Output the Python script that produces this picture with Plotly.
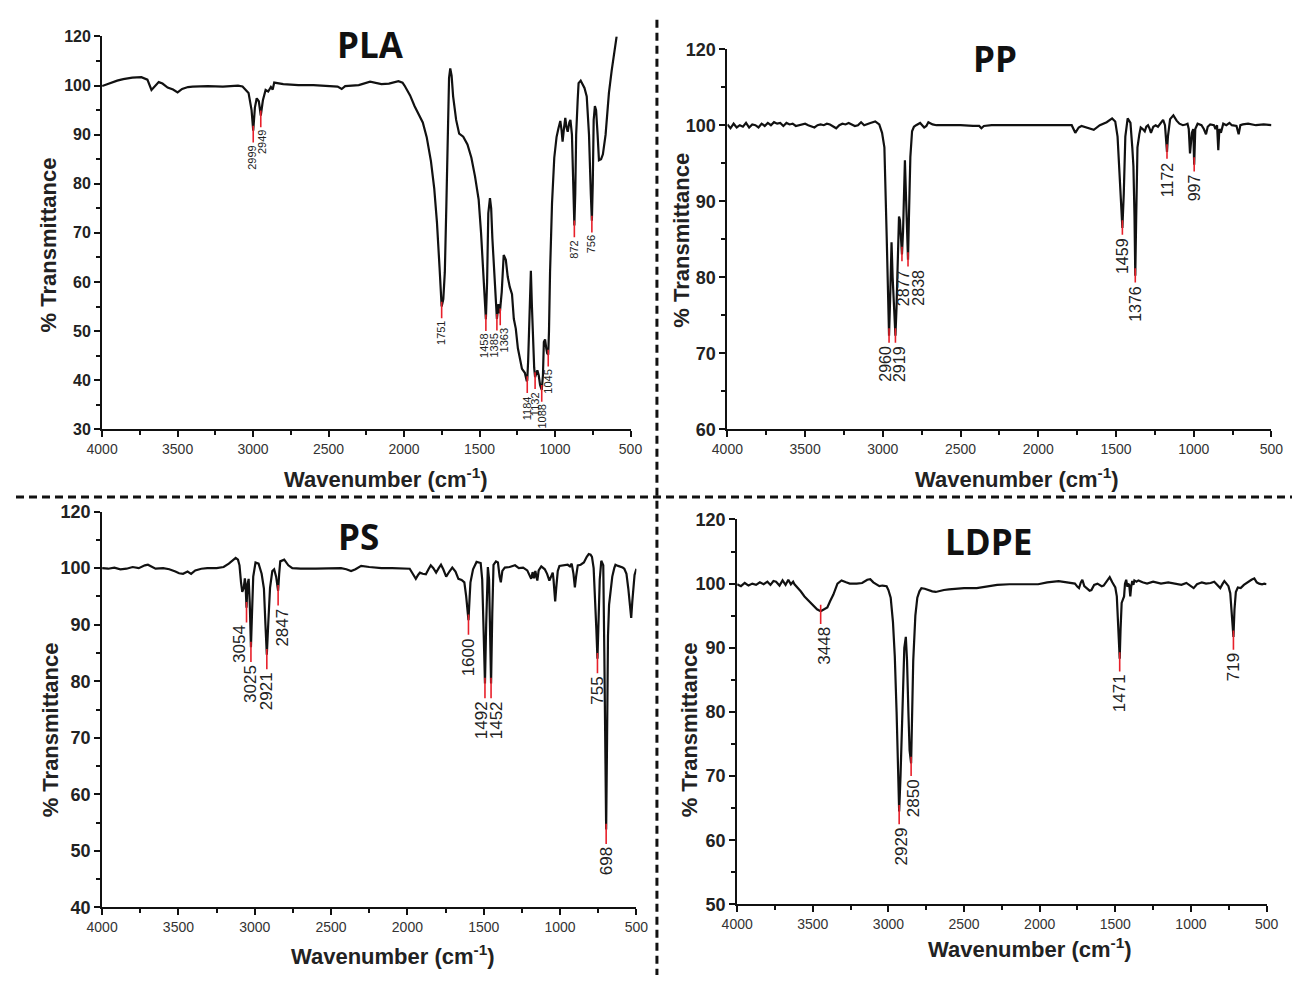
import plotly.graph_objects as go

# ---------------- data ----------------
pla_wn = [4000, 3950, 3900, 3860, 3800, 3740, 3700, 3673, 3650, 3625, 3600, 3566, 3530, 3500, 3470, 3431, 3400,
          3300, 3200, 3100, 3070, 3030, 3010, 2999, 2988, 2976, 2962, 2949, 2935, 2917, 2900, 2882, 2870, 2860,
          2800, 2700, 2600, 2500, 2440, 2413, 2390, 2300, 2225, 2150, 2100, 2037, 2010, 1997, 1960, 1930, 1900,
          1876, 1850, 1822, 1800, 1782, 1765, 1751, 1740, 1730, 1720, 1710, 1702, 1694, 1685, 1675, 1655, 1635,
          1608, 1580, 1554, 1530, 1506, 1490, 1474, 1465, 1458, 1450, 1442, 1431, 1423, 1415, 1400, 1393, 1385,
          1375, 1366, 1353, 1340, 1326, 1313, 1300, 1285, 1273, 1260, 1246, 1230, 1219, 1200, 1187, 1184, 1178,
          1170, 1160, 1153, 1147, 1138, 1132, 1125, 1117, 1108, 1099, 1088, 1080, 1074, 1066, 1058, 1052, 1045,
          1040, 1033, 1020, 1005, 990, 978, 965, 957, 950, 940, 932, 924, 916, 905, 898, 888, 879, 872, 866, 860,
          850, 844, 830, 817, 805, 790, 775, 763, 756, 750, 744, 736, 728, 718, 709, 695, 683, 665, 643, 625,
          602, 592]
pla_t = [99.9, 100.5, 101.0, 101.3, 101.6, 101.7, 101.2, 99.1, 99.8, 100.7, 100.4, 99.6, 99.2, 98.6, 99.3, 99.7,
         99.8, 99.9, 99.8, 100.0, 99.8, 98.5, 95.0, 90.8, 95.5, 97.4, 96.8, 93.9, 97.0, 99.1, 98.8, 99.7, 99.2,
         100.6, 100.3, 100.1, 100.1, 100.0, 99.8, 99.3, 99.9, 100.1, 100.8, 100.3, 100.4, 100.9, 100.6, 100.0,
         98.0, 95.8, 94.0, 92.5, 89.5, 84.6, 79.0, 72.1, 63.0, 55.0, 56.5, 62.0, 75.4, 92.0, 101.5, 103.5, 102.0,
         97.8, 93.0, 90.2, 89.6, 88.0, 85.3, 81.5, 76.8, 70.0, 62.3, 56.0, 52.4, 60.0, 74.0, 77.1, 75.0, 68.9,
         60.0, 55.7, 52.5, 55.5, 53.6, 58.0, 65.5, 64.5, 61.0, 59.0, 57.5, 52.5, 50.5, 46.5, 43.5, 42.3, 41.5,
         39.8, 40.0, 44.0, 52.0, 62.3, 55.0, 48.0, 42.5, 40.6, 41.5, 42.0, 41.0, 39.0, 38.0, 41.0, 47.8, 48.3,
         46.5, 45.5, 45.2, 50.0, 62.0, 76.0, 85.3, 89.5, 91.2, 92.8, 91.0, 88.6, 91.5, 93.4, 91.5, 90.6, 92.5,
         93.0, 90.0, 78.0, 71.5, 78.0, 90.0, 97.0, 100.5, 101.0, 100.3, 99.5, 97.8, 90.0, 78.0, 72.5, 80.0, 93.0,
         95.8, 95.0, 90.0, 84.8, 85.0, 86.0, 90.0, 98.5, 103.0, 108.7, 110.0]
pla_peaks = [2999, 2949, 1751, 1458, 1385, 1363, 1184, 1132, 1088, 1045, 872, 756]
pla_peak_t = [90.8, 93.9, 55.0, 52.4, 52.5, 53.6, 39.8, 40.6, 38.0, 45.2, 71.5, 72.5]

pp_wn = [4000, 3980, 3960, 3940, 3920, 3900, 3880, 3860, 3840, 3820, 3800, 3780, 3760, 3740, 3720, 3700, 3680,
         3660, 3640, 3620, 3600, 3580, 3560, 3540, 3520, 3500, 3480, 3460, 3440, 3420, 3400, 3380, 3360, 3340,
         3320, 3300, 3280, 3260, 3240, 3220, 3200, 3180, 3160, 3140, 3120, 3100, 3080, 3049, 3023, 3005, 2990,
         2975, 2968, 2960, 2952, 2944, 2937, 2930, 2924, 2919, 2912, 2904, 2896, 2890, 2883, 2877, 2870, 2864,
         2858, 2850, 2844, 2838, 2832, 2823, 2812, 2800, 2786, 2760, 2734, 2720, 2707, 2680, 2655, 2600, 2500,
         2420, 2380, 2366, 2350, 2300, 2200, 2100, 2000, 1900, 1800, 1785, 1762, 1740, 1722, 1680, 1643, 1604,
         1560, 1525, 1505, 1490, 1478, 1468, 1459, 1450, 1440, 1425, 1407, 1395, 1388, 1381, 1376, 1370, 1362,
         1350, 1341, 1328, 1315, 1305, 1294, 1285, 1275, 1260, 1245, 1230, 1215, 1197, 1185, 1178, 1172, 1166,
         1152, 1131, 1110, 1092, 1070, 1052, 1040, 1032, 1024, 1012, 1003, 997, 990, 975, 950, 935, 921, 910,
         894, 870, 860, 850, 842, 835, 825, 810, 790, 770, 755, 725, 711, 700, 684, 650, 600, 550, 500]
pp_t = [100.1, 99.6, 100.2, 99.7, 100.0, 99.8, 100.3, 99.7, 100.1, 100.0, 99.7, 100.2, 99.9, 100.3, 100.0, 100.4,
        100.2, 100.3, 99.9, 100.3, 100.1, 100.2, 99.9, 100.0, 100.1, 100.2, 100.0, 99.8, 99.7, 100.0, 100.1,
        100.0, 100.2, 100.1, 99.8, 99.6, 100.0, 100.2, 100.1, 100.3, 100.1, 99.9, 100.0, 100.4, 100.0, 100.1,
        100.3, 100.5, 100.1, 99.0, 97.1, 85.2, 78.0, 72.3, 78.0, 84.6, 80.0, 76.7, 74.5, 72.3, 76.0, 82.0, 88.0,
        87.5, 85.0, 83.0, 86.0, 90.0, 95.4, 90.0, 84.0, 82.3, 88.0, 95.8, 99.2, 99.8, 100.0, 100.3, 99.7, 99.9,
        100.4, 100.1, 100.0, 100.0, 100.0, 99.9, 99.9, 99.6, 99.9, 100.0, 100.0, 100.0, 100.0, 100.0, 100.0,
        100.0, 99.0, 99.7, 99.9, 99.6, 99.4, 100.0, 100.4, 100.9, 100.5, 98.5, 93.7, 89.0, 86.5, 91.0, 98.5,
        100.9, 100.3, 97.0, 94.6, 88.0, 80.2, 88.0, 97.1, 98.8, 99.7, 99.5, 99.2, 99.8, 100.0, 99.6, 99.0,
        99.8, 100.0, 99.8, 100.2, 100.7, 100.0, 98.0, 96.5, 98.5, 100.8, 101.3, 100.6, 100.2, 100.0, 100.1,
        100.2, 99.5, 96.3, 99.0, 99.5, 94.8, 99.5, 100.2, 100.0, 99.5, 98.8, 99.8, 100.1, 100.0, 99.5, 100.0,
        96.7, 99.5, 99.0, 100.2, 100.0, 100.3, 100.0, 99.9, 98.8, 100.0, 100.1, 100.2, 100.0, 100.1, 100.0]
pp_peaks = [2960, 2919, 2877, 2838, 1459, 1376, 1172, 997]
pp_peak_t = [72.3, 72.3, 83.0, 82.3, 86.5, 80.2, 96.5, 94.8]

ps_wn = [4000, 3960, 3920, 3880, 3840, 3800, 3760, 3720, 3700, 3680, 3650, 3600, 3560, 3520, 3496, 3470, 3440,
         3417, 3390, 3350, 3311, 3250, 3204, 3170, 3151, 3125, 3110, 3100, 3090, 3082, 3072, 3065, 3060, 3054,
         3048, 3040, 3033, 3025, 3018, 3010, 2995, 2975, 2955, 2940, 2930, 2921, 2912, 2900, 2885, 2873, 2860,
         2852, 2847, 2840, 2833, 2807, 2780, 2754, 2700, 2600, 2500, 2435, 2400, 2369, 2340, 2303, 2250, 2170,
         2100, 2040, 1985, 1965, 1945, 1930, 1918, 1900, 1879, 1862, 1847, 1830, 1812, 1795, 1780, 1765, 1746,
         1725, 1706, 1685, 1666, 1645, 1627, 1615, 1600, 1592, 1587, 1570, 1547, 1520, 1510, 1500, 1492, 1484,
         1473, 1465, 1458, 1452, 1444, 1436, 1420, 1407, 1396, 1388, 1378, 1362, 1330, 1295, 1270, 1242, 1215,
         1200, 1189, 1180, 1170, 1162, 1149, 1140, 1123, 1100, 1085, 1070, 1060, 1048, 1043, 1032, 1025, 1015,
         1004, 980, 950, 935, 924, 912, 903, 895, 884, 865, 844, 825, 812, 800, 791, 780, 770, 762, 755, 748,
         740, 730, 717, 710, 704, 698, 692, 686, 679, 668, 658, 645, 637, 620, 606, 590, 579, 565, 553, 542,
         534, 527, 521, 512, 500]
ps_t = [100.0, 99.9, 100.1, 99.8, 99.9, 100.2, 100.0, 100.5, 100.6, 100.3, 99.9, 100.0, 99.8, 99.4, 99.1, 99.0,
        99.4, 99.0, 99.6, 99.9, 100.0, 100.0, 100.2, 100.8, 101.3, 101.8, 101.5, 100.5, 97.5, 95.8, 96.5, 98.2,
        97.0, 93.0, 97.0, 98.1, 94.0, 86.0, 92.0, 98.5, 101.0, 100.8, 99.0, 96.4, 90.0, 84.7, 90.0, 96.5, 99.5,
        99.8, 98.5, 96.4, 96.0, 99.0, 101.2, 101.5, 100.5, 100.0, 99.9, 99.9, 100.0, 100.0, 99.8, 99.5, 99.8,
        100.4, 100.2, 100.0, 100.0, 100.0, 99.9, 99.0, 98.1, 98.8, 99.2, 99.0, 98.9, 99.8, 100.5, 100.0, 99.2,
        100.0, 100.6, 99.8, 98.5, 99.4, 100.1, 99.4, 98.1, 97.9, 97.5, 95.0, 90.8, 95.0, 97.5, 99.8, 101.1,
        100.9, 98.0, 88.0, 79.6, 90.0, 100.2, 98.0, 88.0, 79.6, 92.0, 100.6, 101.2, 101.0, 98.5, 97.5, 99.5,
        100.1, 100.2, 100.5, 100.0, 100.1, 99.6, 98.8, 98.1, 99.3, 98.2, 99.5, 97.8, 99.6, 100.3, 99.8, 99.0,
        97.8, 98.5, 99.2, 98.0, 94.1, 96.5, 99.5, 100.4, 100.5, 100.6, 100.3, 100.8, 99.0, 96.6, 98.5, 100.5,
        100.6, 101.0, 102.0, 102.5, 102.4, 102.0, 100.0, 95.0, 89.0, 84.0, 90.0, 98.0, 101.3, 100.5, 85.0,
        70.0, 53.8, 70.0, 88.0, 93.5, 96.5, 98.5, 100.0, 100.6, 100.4, 100.3, 100.1, 99.9, 99.0, 96.4, 93.0,
        91.2, 94.0, 96.8, 98.8, 99.9]
ps_peaks = [3054, 3025, 2921, 2847, 1600, 1492, 1452, 755, 698]
ps_peak_t = [93.0, 86.0, 84.7, 96.0, 90.8, 79.6, 79.6, 84.0, 53.8]

ldpe_wn = [4000, 3975, 3950, 3925, 3900, 3875, 3850, 3825, 3800, 3780, 3760, 3743, 3720, 3700, 3680, 3662, 3645,
           3630, 3621, 3600, 3580, 3555, 3526, 3500, 3472, 3448, 3425, 3404, 3385, 3364, 3337, 3310, 3280, 3256,
           3210, 3174, 3140, 3120, 3100, 3080, 3060, 3039, 3012, 3000, 2985, 2970, 2958, 2946, 2936, 2929, 2920,
           2912, 2904, 2895, 2885, 2877, 2868, 2860, 2850, 2843, 2836, 2822, 2809, 2795, 2782, 2760, 2741, 2710,
           2687, 2660, 2633, 2600, 2550, 2500, 2416, 2350, 2281, 2200, 2100, 2010, 1950, 1875, 1820, 1767, 1750,
           1740, 1728, 1718, 1705, 1690, 1670, 1658, 1640, 1618, 1590, 1577, 1555, 1537, 1520, 1509, 1500, 1490,
           1482, 1476, 1471, 1465, 1458, 1450, 1442, 1436, 1428, 1420, 1415, 1408, 1401, 1395, 1388, 1380, 1374,
           1360, 1347, 1320, 1290, 1250, 1198, 1150, 1100, 1063, 1030, 1000, 982, 960, 928, 900, 870, 846, 825,
           806, 790, 779, 765, 752, 740, 730, 719, 712, 703, 690, 671, 650, 630, 617, 600, 581, 565, 549, 530,
           515, 500]
ldpe_t = [99.9, 99.6, 100.1, 99.7, 100.0, 99.8, 100.2, 99.9, 100.3, 99.8, 100.4, 100.3, 99.7, 100.5, 99.8, 100.6,
          99.9, 100.3, 99.9, 99.4, 98.8, 98.0, 97.3, 96.6, 96.0, 95.7, 96.0, 96.3, 97.3, 98.3, 100.0, 100.5,
          100.2, 100.0, 100.0, 100.1, 100.6, 100.7, 100.2, 99.9, 99.6, 99.7, 99.6, 99.0, 97.8, 94.0, 88.7, 80.0,
          72.0, 64.5, 70.0, 77.0, 85.0, 90.0, 91.7, 88.0, 80.0, 74.0, 72.0, 80.0, 88.0, 95.0, 97.8, 98.8, 99.3,
          99.2, 99.0, 98.8, 98.7, 98.9, 99.0, 99.1, 99.2, 99.3, 99.3, 99.5, 99.8, 99.9, 99.9, 99.9, 100.2, 100.4,
          100.2, 100.0, 99.5, 99.3, 100.2, 100.6, 99.6, 99.3, 98.9, 99.0, 99.8, 100.0, 99.6, 99.7, 100.5, 101.0,
          100.2, 99.8, 99.4, 98.0, 93.8, 90.0, 88.3, 93.0, 97.0, 97.5, 98.0, 100.0, 100.6, 99.5, 100.0, 99.8,
          98.0, 99.5, 100.4, 99.8, 100.5, 100.3, 100.5, 100.2, 100.0, 100.3, 100.0, 100.2, 100.0, 99.8, 100.1,
          99.6, 99.3, 99.9, 100.2, 100.0, 100.1, 100.3, 99.8, 99.3, 100.0, 100.4, 100.0, 99.6, 98.5, 95.0, 91.7,
          96.0, 98.7, 99.4, 99.3, 99.8, 100.1, 100.4, 100.6, 100.8, 100.2, 100.0, 99.9, 100.0, 99.9]
ldpe_peaks = [3448, 2929, 2850, 1471, 719]
ldpe_peak_t = [95.7, 64.5, 72.0, 88.3, 91.7]

panel_names = ["PLA", "PP", "PS", "LDPE"]
x_ticks = [4000, 3500, 3000, 2500, 2000, 1500, 1000, 500]
x_minor = [3750, 3250, 2750, 2250, 1750, 1250, 750]

# ---------------- layout helpers ----------------
W, H = 1304, 985


def fx(p):
    return p / W


def fy(p):
    return 1 - p / H


# per panel layout (pixel spans, fonts, label nudges in px so close labels sit side by side)
panels = [
    dict(wn=pla_wn, t=pla_t, pk=pla_peaks, pkt=pla_peak_t, xs=(88, 628), ys=(27, 428), ymin=30,
         ytf=16, lf=11, ml=2.4, title=(362, 35), ytit=(33, 240), xtit=(378, 478),
         nudge=[-2, 2, 0, -2, -3, 4, 0, 0, 0, 0, 0, 0], dy=[0] * 12),
    dict(wn=pp_wn, t=pp_t, pk=pp_peaks, pkt=pp_peak_t, xs=(727, 1283), ys=(40, 428), ymin=60,
         ytf=18, lf=16, ml=0.9, title=(1000, 50), ytit=(680, 235), xtit=(1023, 478),
         nudge=[-3, 4, 1, 11, 0, 0, 0, 0], dy=[0, 0, -6, 0, 0, 0, 0, 0]),
    dict(wn=ps_wn, t=ps_t, pk=ps_peaks, pkt=ps_peak_t, xs=(88, 634), ys=(512, 916), ymin=40,
         ytf=18, lf=17, ml=2.6, title=(350, 537), ytit=(35, 735), xtit=(385, 965),
         nudge=[-7, -1, 0, 4, 0, -4, 5, 0, 0], dy=[0] * 9),
    dict(wn=ldpe_wn, t=ldpe_t, pk=ldpe_peaks, pkt=ldpe_peak_t, xs=(737, 1278), ys=(520, 913), ymin=50,
         ytf=18, lf=17, ml=2.0, title=(994, 543), ytit=(688, 735), xtit=(1036, 957),
         nudge=[3, 2, 2, 0, 0], dy=[0] * 5),
]

fig = go.Figure()
annotations = []
layout_axes = {}

for i, (name, p) in enumerate(zip(panel_names, panels), start=1):
    xa = "x" if i == 1 else f"x{i}"
    ya = "y" if i == 1 else f"y{i}"
    fig.add_trace(go.Scatter(x=p["wn"], y=p["t"], mode="lines", xaxis=xa, yaxis=ya,
                             line=dict(color="#111111", width=2.2), showlegend=False, hoverinfo="skip"))
    # red peak markers
    mx, my = [], []
    for w, v in zip(p["pk"], p["pkt"]):
        mx += [w, w, None]
        my += [v + 1.0, v - p["ml"], None]
    fig.add_trace(go.Scatter(x=mx, y=my, mode="lines", xaxis=xa, yaxis=ya,
                             line=dict(color="#e8202a", width=1.6), showlegend=False, hoverinfo="skip"))
    for w, v, dx, dy in zip(p["pk"], p["pkt"], p["nudge"], p["dy"]):
        annotations.append(dict(x=w, y=v - p["ml"], xref=xa, yref=ya, text=str(w), showarrow=False,
                                textangle=-90, xanchor="center", yanchor="top", yshift=-1 + dy, xshift=dx,
                                font=dict(family="Liberation Sans", size=p["lf"], color="#222222")))
    yt = list(range(p["ymin"], 111, 10))
    ytt = [str(v) if v <= 100 else "120" for v in yt]
    ym = [v + 5 for v in yt[:-1]]
    layout_axes["xaxis" if i == 1 else f"xaxis{i}"] = dict(
        domain=[fx(p["xs"][0]), fx(p["xs"][1])], anchor=ya, range=[4000, 500],
        tickvals=x_ticks, ticks="outside", ticklen=6, tickwidth=1.6, tickcolor="#111",
        showline=True, linecolor="#111", linewidth=2, showgrid=False, zeroline=False,
        tickfont=dict(family="Liberation Sans", size=14, color="#333333"),
        minor=dict(tickvals=x_minor, ticks="outside", ticklen=4, tickwidth=1.6, tickcolor="#111"))
    layout_axes["yaxis" if i == 1 else f"yaxis{i}"] = dict(
        domain=[fy(p["ys"][1]), fy(p["ys"][0])], anchor=xa, range=[p["ymin"], 110],
        tickvals=yt, ticktext=ytt, ticks="outside", ticklen=6, tickwidth=1.6, tickcolor="#111",
        showline=True, linecolor="#111", linewidth=2, showgrid=False, zeroline=False,
        tickfont=dict(family="Liberation Sans", size=p["ytf"], color="#222222", weight="bold"),
        minor=dict(tickvals=ym, ticks="outside", ticklen=4, tickwidth=1.6, tickcolor="#111"))
    # panel title
    annotations.append(dict(x=fx(p["title"][0]), y=fy(p["title"][1]), xref="paper", yref="paper",
                            text=f"<b>{name}</b>", showarrow=False, xanchor="center", yanchor="middle",
                            font=dict(family="Open Sans", size=35, color="#111111")))
    # axis titles
    annotations.append(dict(x=fx(p["ytit"][0]), y=fy(p["ytit"][1]), xref="paper", yref="paper",
                            text="<b>% Transmittance</b>", showarrow=False, textangle=-90,
                            xanchor="center", yanchor="middle",
                            font=dict(family="Liberation Sans", size=22, color="#222222")))
    annotations.append(dict(x=fx(p["xtit"][0]), y=fy(p["xtit"][1]), xref="paper", yref="paper",
                            text="<b>Wavenumber (cm<sup>-1</sup>)</b>", showarrow=False,
                            xanchor="center", yanchor="middle",
                            font=dict(family="Liberation Sans", size=22, color="#222222")))

shapes = [
    dict(type="line", xref="paper", yref="paper", x0=fx(655), x1=fx(655), y0=fy(10), y1=0,
         line=dict(color="#111", width=3, dash="8px,5px")),
    dict(type="line", xref="paper", yref="paper", x0=0, x1=1, y0=fy(497), y1=fy(497),
         line=dict(color="#111", width=3, dash="8px,5px")),
]

fig.update_layout(width=W, height=H, margin=dict(l=0, r=0, t=0, b=0),
                  paper_bgcolor="white", plot_bgcolor="white",
                  annotations=annotations, shapes=shapes, **layout_axes)

fig.write_html("out.html")
